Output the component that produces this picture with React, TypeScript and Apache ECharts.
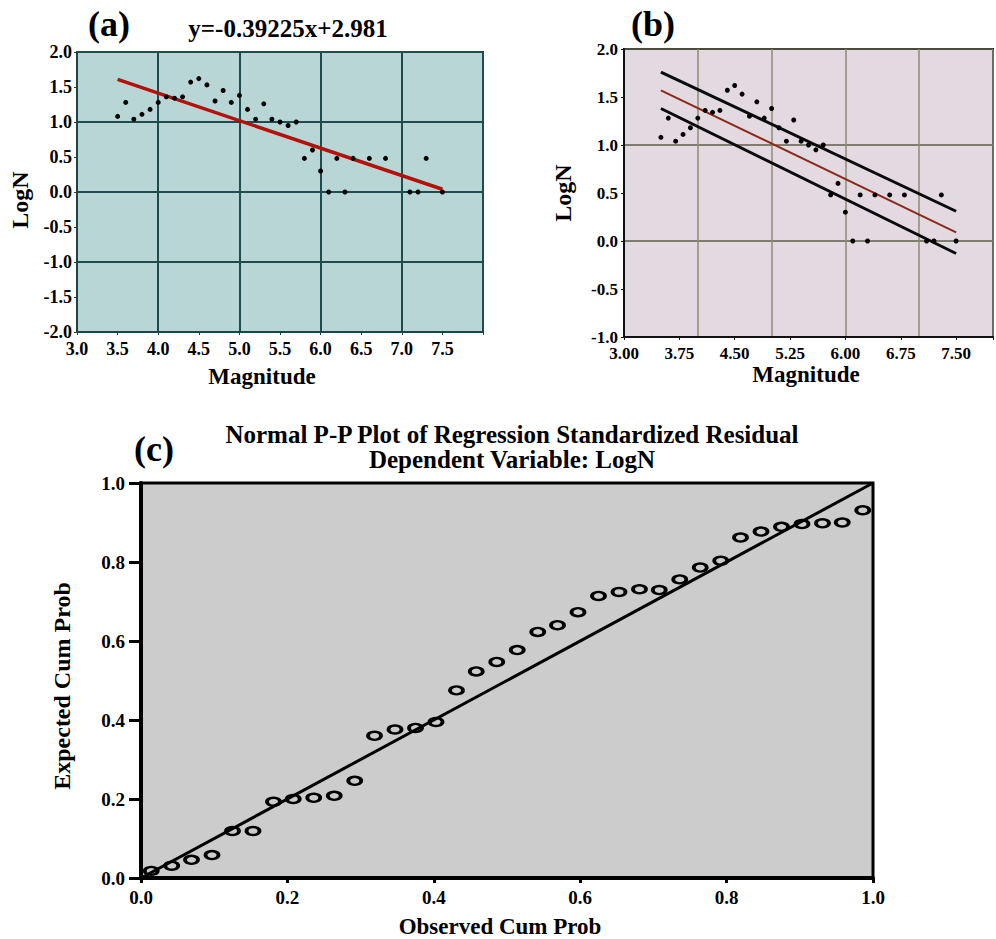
import React, { useEffect, useRef } from "react";
import * as echarts from "echarts";

// ---- data ----
const magnitudes = [3.5, 3.6, 3.7, 3.8, 3.9, 4.0, 4.1, 4.2, 4.3, 4.4, 4.5, 4.6, 4.7, 4.8, 4.9, 5.0, 5.1, 5.2, 5.3, 5.4, 5.5, 5.6, 5.7, 5.8, 5.9, 6.0, 6.1, 6.2, 6.3, 6.4, 6.6, 6.8, 7.1, 7.2, 7.3, 7.5];
const logN = [1.08, 1.28, 1.04, 1.11, 1.18, 1.28, 1.36, 1.34, 1.36, 1.57, 1.62, 1.53, 1.30, 1.45, 1.28, 1.38, 1.18, 1.04, 1.26, 1.04, 1.00, 0.95, 1.00, 0.48, 0.60, 0.30, 0.00, 0.48, 0.00, 0.48, 0.48, 0.48, 0.00, 0.00, 0.48, 0.00];

// panel (a) regression line  y = -0.39225x + 2.981
const fitAX = [3.5, 7.5];
const fitAY = [1.608, 0.039];

// panel (b) fitted line and bounds
const fitBX = [3.5, 7.5];
const fitBY = [1.57, 0.09];
const upperBY = [1.76, 0.31];
const lowerBY = [1.38, -0.13];

// panel (c) normal P-P plot
const observedCum = [0.014, 0.042, 0.069, 0.097, 0.125, 0.153, 0.181, 0.208, 0.236, 0.264, 0.292, 0.319, 0.347, 0.375, 0.403, 0.431, 0.458, 0.486, 0.514, 0.542, 0.569, 0.597, 0.625, 0.653, 0.681, 0.708, 0.736, 0.764, 0.792, 0.819, 0.847, 0.875, 0.903, 0.931, 0.958, 0.986];
const expectedCum = [0.018, 0.031, 0.046, 0.058, 0.119, 0.119, 0.193, 0.200, 0.203, 0.208, 0.246, 0.360, 0.376, 0.380, 0.395, 0.475, 0.523, 0.547, 0.577, 0.623, 0.640, 0.673, 0.714, 0.724, 0.731, 0.729, 0.756, 0.786, 0.803, 0.862, 0.877, 0.889, 0.896, 0.898, 0.900, 0.931];
const refLineX = [0, 1];
const refLineY = [0, 1];

const FONT = "'Liberation Serif', 'Times New Roman', serif";

const zip = (a: number[], b: number[]) => a.map((v, i) => [v, b[i]]);

const txt = (text: string, x: number, y: number, size: number, rotation = 0) => ({
  type: "text",
  x,
  y,
  rotation,
  style: {
    text,
    fill: "#000",
    font: `bold ${size}px ${FONT}`,
    textAlign: "center",
    textVerticalAlign: "middle",
  },
});

export default function App() {
  const ref = useRef<HTMLDivElement>(null);
  useEffect(() => {
    if (!ref.current) return;
    const chart = echarts.init(ref.current, null, { renderer: "svg" });
    const label = (size: number, fmt: (v: number) => string, margin: number) => ({
      fontFamily: FONT,
      fontWeight: "bold",
      fontSize: size,
      color: "#000",
      margin,
      formatter: fmt,
    });
    const hiddenAxis = (color: string, width: number) => ({
      axisLine: { show: false, onZero: false },
      axisTick: { show: false },
      axisLabel: { show: false },
      splitLine: { show: true, lineStyle: { color, width } },
    });
    const option: any = {
      animation: false,
      backgroundColor: "#ffffff",
      grid: [
        { left: 77, top: 52, width: 406, height: 280, show: true, backgroundColor: "#b8d6d6", borderColor: "#1d4545", borderWidth: 2 },
        { left: 624, top: 49, width: 369, height: 288, show: true, backgroundColor: "#e3d9e1", borderColor: "#111111", borderWidth: 2 },
        { left: 141, top: 483, width: 732, height: 395, show: true, backgroundColor: "#cccccc", borderColor: "#000000", borderWidth: 3 },
      ],
      xAxis: [
        {
          gridIndex: 0, type: "value", min: 3, max: 8, interval: 0.5, position: "bottom",
          axisLine: { show: true, onZero: false, lineStyle: { color: "#1d4545", width: 2 } },
          axisTick: { show: true, length: 3, lineStyle: { color: "#1d4545" } },
          splitLine: { show: false },
          axisLabel: label(18, (v: number) => (v > 7.9 ? "" : v.toFixed(1)), 8),
        },
        { gridIndex: 0, type: "value", min: 3, max: 8, interval: 1, position: "top", ...hiddenAxis("#1f4c4c", 2) },
        {
          gridIndex: 1, type: "value", min: 3, max: 8, interval: 0.75, position: "bottom",
          axisLine: { show: true, onZero: false, lineStyle: { color: "#111", width: 2 } },
          axisTick: { show: true, length: 3, lineStyle: { color: "#111" } },
          splitLine: { show: false },
          axisLabel: label(17, (v: number) => (v > 7.9 ? "" : v.toFixed(2)), 8),
        },
        { gridIndex: 1, type: "value", min: 3, max: 8, interval: 1, position: "top", ...hiddenAxis("#8c8a78", 1.5) },
        {
          gridIndex: 2, type: "value", min: 0, max: 1, interval: 0.2, position: "bottom",
          axisLine: { show: true, onZero: false, lineStyle: { color: "#000", width: 4 } },
          axisTick: { show: true, length: 5, lineStyle: { color: "#000", width: 3 } },
          splitLine: { show: false },
          axisLabel: label(19, (v: number) => v.toFixed(1), 10),
        },
      ],
      yAxis: [
        {
          gridIndex: 0, type: "value", min: -2, max: 2, interval: 0.5, position: "left",
          axisLine: { show: true, onZero: false, lineStyle: { color: "#1d4545", width: 2 } },
          axisTick: { show: true, length: 3, lineStyle: { color: "#1d4545" } },
          splitLine: { show: false },
          axisLabel: label(18, (v: number) => v.toFixed(1), 5),
        },
        { gridIndex: 0, type: "value", min: -2, max: 2, interval: 1, position: "right", ...hiddenAxis("#1f4c4c", 2) },
        {
          gridIndex: 1, type: "value", min: -1, max: 2, interval: 0.5, position: "left",
          axisLine: { show: true, onZero: false, lineStyle: { color: "#111", width: 2 } },
          axisTick: { show: true, length: 3, lineStyle: { color: "#111" } },
          splitLine: { show: false },
          axisLabel: label(17, (v: number) => v.toFixed(1), 6),
        },
        { gridIndex: 1, type: "value", min: -1, max: 2, interval: 1, position: "right", ...hiddenAxis("#5e5c4c", 1.5) },
        {
          gridIndex: 2, type: "value", min: 0, max: 1, interval: 0.2, position: "left",
          axisLine: { show: true, onZero: false, lineStyle: { color: "#000", width: 4 } },
          axisTick: { show: true, length: 12, lineStyle: { color: "#000", width: 3 } },
          splitLine: { show: false },
          axisLabel: label(19, (v: number) => v.toFixed(1), 16),
        },
      ],
      series: [
        {
          type: "line", xAxisIndex: 0, yAxisIndex: 0, data: zip(fitAX, fitAY), showSymbol: false,
          lineStyle: { color: "#b3120c", width: 3.5 }, z: 3,
        },
        {
          type: "scatter", xAxisIndex: 0, yAxisIndex: 0, data: zip(magnitudes, logN), symbolSize: 5,
          itemStyle: { color: "#000", opacity: 1 }, z: 4,
        },
        {
          type: "line", xAxisIndex: 2, yAxisIndex: 2, data: zip(fitBX, upperBY), showSymbol: false,
          lineStyle: { color: "#0a0a0a", width: 3 }, z: 3,
        },
        {
          type: "line", xAxisIndex: 2, yAxisIndex: 2, data: zip(fitBX, fitBY), showSymbol: false,
          lineStyle: { color: "#8a2a18", width: 2 }, z: 3,
        },
        {
          type: "line", xAxisIndex: 2, yAxisIndex: 2, data: zip(fitBX, lowerBY), showSymbol: false,
          lineStyle: { color: "#0a0a0a", width: 3 }, z: 3,
        },
        {
          type: "scatter", xAxisIndex: 2, yAxisIndex: 2, data: zip(magnitudes, logN), symbolSize: 5,
          itemStyle: { color: "#000", opacity: 1 }, z: 4,
        },
        {
          type: "line", xAxisIndex: 4, yAxisIndex: 4, data: zip(refLineX, refLineY), showSymbol: false,
          lineStyle: { color: "#000", width: 3 }, z: 3,
        },
        {
          type: "scatter", xAxisIndex: 4, yAxisIndex: 4, data: zip(observedCum, expectedCum),
          symbol: "circle", symbolSize: [13, 8],
          itemStyle: { color: "rgba(204,204,204,0)", borderColor: "#000", borderWidth: 3, opacity: 1 },
          z: 4,
        },
      ],
      graphic: [
        txt("(a)", 109, 24, 36),
        txt("y=-0.39225x+2.981", 288, 28, 25),
        txt("(b)", 653, 24, 36),
        txt("LogN", 20, 200, 24, Math.PI / 2),
        txt("LogN", 563, 193, 24, Math.PI / 2),
        txt("Magnitude", 262, 376, 23),
        txt("Magnitude", 806, 374, 23),
        txt("(c)", 154, 449, 36),
        txt("Normal P-P Plot of Regression Standardized Residual", 512, 434, 25),
        txt("Dependent Variable: LogN", 512, 459, 25),
        txt("Expected Cum Prob", 62, 686, 24, Math.PI / 2),
        txt("Observed Cum Prob", 500, 926, 23),
      ],
    };
    chart.setOption(option);
    return () => chart.dispose();
  }, []);
  return (
    <div
      ref={ref}
      style={{ position: "fixed", left: 0, top: 0, width: 996, height: 939, background: "#fff" }}
    />
  );
}
